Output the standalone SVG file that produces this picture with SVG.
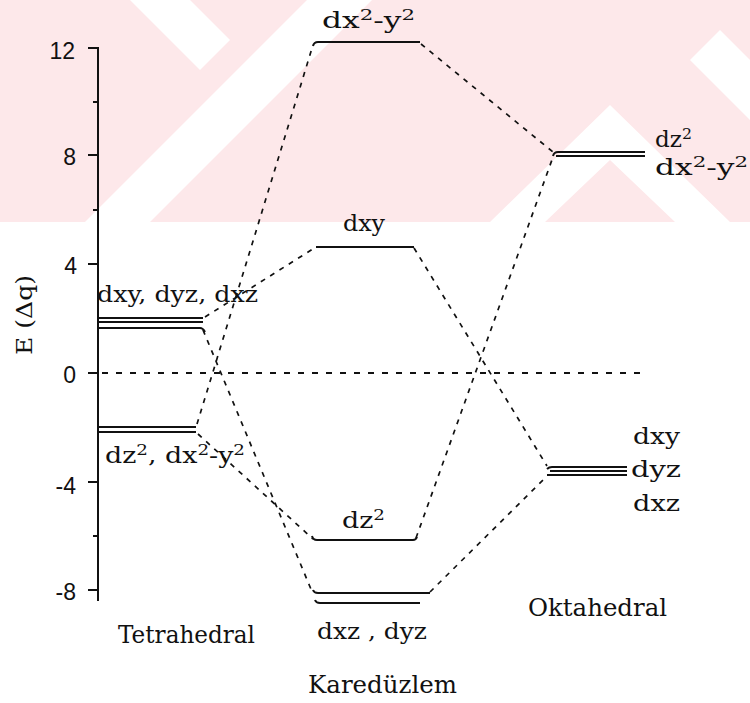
<svg xmlns="http://www.w3.org/2000/svg" width="750" height="703" viewBox="0 0 750 703">
<style>
.lbl{font-family:"DejaVu Serif","Liberation Serif",serif;font-size:22px;fill:#111}
.big{font-family:"DejaVu Serif","Liberation Serif",serif;font-size:25px;fill:#111}
.num{font-family:"Liberation Sans",Arial,sans-serif;font-size:23px;fill:#111;text-anchor:end}
.sup{font-size:15px}
.lvl{stroke:#111;stroke-width:2;fill:none}
.conn{stroke:#111;stroke-width:1.7;stroke-dasharray:5 6;fill:none}
.axis{stroke:#111;stroke-width:2;fill:none}
.zero{stroke:#111;stroke-width:1.8;stroke-dasharray:6 8;fill:none}
</style>
<rect width="750" height="703" fill="#fff"/>
<g id="watermark">
<rect x="0" y="0" width="750" height="222" fill="#fde8ea"/>
<polygon points="85,222 150,222 372,0 307,0" fill="#fff"/>
<polygon points="130,0 190,0 230,40 200,70" fill="#fff"/>
<polygon points="490,222 545,222 610,160 675,222 730,222 610,105" fill="#fff"/>
<polygon points="690,60 750,120 750,60 720,30" fill="#fff"/>
</g>
<g id="axis">
<line class="axis" x1="98" y1="47" x2="98" y2="601"/>
<path class="axis" d="M88 48H98M88 155H98M88 264H98M88 373H98M88 482H98M88 590H98"/>
<path class="axis" d="M93 102H98M93 210H98M93 536H98" stroke-width="1.5"/>
<text class="num" x="75" y="59">12</text>
<text class="num" x="76" y="165">8</text>
<text class="num" x="77" y="274">4</text>
<text class="num" x="76" y="383">0</text>
<text class="num" x="76" y="494">-4</text>
<text class="num" x="76" y="600">-8</text>
<text class="lbl" transform="translate(32,315) rotate(-90)" text-anchor="middle" textLength="80" lengthAdjust="spacingAndGlyphs">E (Δq)</text>
<line class="zero" x1="88" y1="373" x2="645" y2="373"/>
</g>
<g id="connectors">
<line class="conn" x1="197" y1="424" x2="313" y2="45"/>
<line class="conn" x1="205" y1="317" x2="316" y2="247"/>
<line class="conn" x1="203" y1="330" x2="313" y2="594"/>
<line class="conn" x1="198" y1="434" x2="313" y2="539"/>
<line class="conn" x1="421" y1="44" x2="553" y2="152"/>
<line class="conn" x1="414" y1="248" x2="547" y2="466"/>
<line class="conn" x1="416" y1="538" x2="553" y2="157"/>
<line class="conn" x1="430" y1="592" x2="547" y2="476"/>
</g>
<g id="tetrahedral">
<path class="lvl" d="M98 318H203M98 322H203M98 328H200Q203 328 205 332"/>
<path class="lvl" d="M98 427H196M98 432H196"/>
<text class="lbl" x="97" y="302" textLength="161" lengthAdjust="spacingAndGlyphs">dxy, dyz, dxz</text>
<text class="lbl" x="105" y="463" textLength="140" lengthAdjust="spacingAndGlyphs">dz<tspan class="sup" dy="-8">2</tspan><tspan dy="8">, dx</tspan><tspan class="sup" dy="-8">2</tspan><tspan dy="8">-y</tspan><tspan class="sup" dy="-8">2</tspan></text>
<text class="big" x="118" y="643" textLength="137" lengthAdjust="spacingAndGlyphs">Tetrahedral</text>
</g>
<g id="karaduzlem">
<path class="lvl" d="M313 46Q314 42 318 42H420"/>
<path class="lvl" d="M316 247H414"/>
<path class="lvl" d="M312 536Q313 540 317 540H413Q416 540 417 537"/>
<path class="lvl" d="M313 590Q314 593 318 593H430M315 600Q316 603 320 603H420"/>
<text class="lbl" x="322" y="28" textLength="93" lengthAdjust="spacingAndGlyphs">dx<tspan class="sup" dy="-8">2</tspan><tspan dy="8">-y</tspan><tspan class="sup" dy="-8">2</tspan></text>
<text class="lbl" x="343" y="231" textLength="42" lengthAdjust="spacingAndGlyphs">dxy</text>
<text class="lbl" x="342" y="528" textLength="43" lengthAdjust="spacingAndGlyphs">dz<tspan class="sup" dy="-8">2</tspan></text>
<text class="lbl" x="317" y="639" textLength="110" lengthAdjust="spacingAndGlyphs">dxz , dyz</text>
<text class="big" x="308" y="693" textLength="149" lengthAdjust="spacingAndGlyphs">Karedüzlem</text>
</g>
<g id="oktahedral">
<path class="lvl" d="M553 156Q554 152 558 152H645M556 156H645"/>
<path class="lvl" d="M547 469Q549 467 552 467H627M550 471H627M547 475H627"/>
<text class="lbl" x="655" y="147" textLength="37" lengthAdjust="spacingAndGlyphs">dz<tspan class="sup" dy="-8">2</tspan></text>
<text class="lbl" x="655" y="175" textLength="93" lengthAdjust="spacingAndGlyphs">dx<tspan class="sup" dy="-8">2</tspan><tspan dy="8">-y</tspan><tspan class="sup" dy="-8">2</tspan></text>
<text class="lbl" x="633" y="444" textLength="47" lengthAdjust="spacingAndGlyphs">dxy</text>
<text class="lbl" x="631" y="477" textLength="50" lengthAdjust="spacingAndGlyphs">dyz</text>
<text class="lbl" x="633" y="511" textLength="47" lengthAdjust="spacingAndGlyphs">dxz</text>
<text class="big" x="528" y="616" textLength="139" lengthAdjust="spacingAndGlyphs">Oktahedral</text>
</g>
</svg>
